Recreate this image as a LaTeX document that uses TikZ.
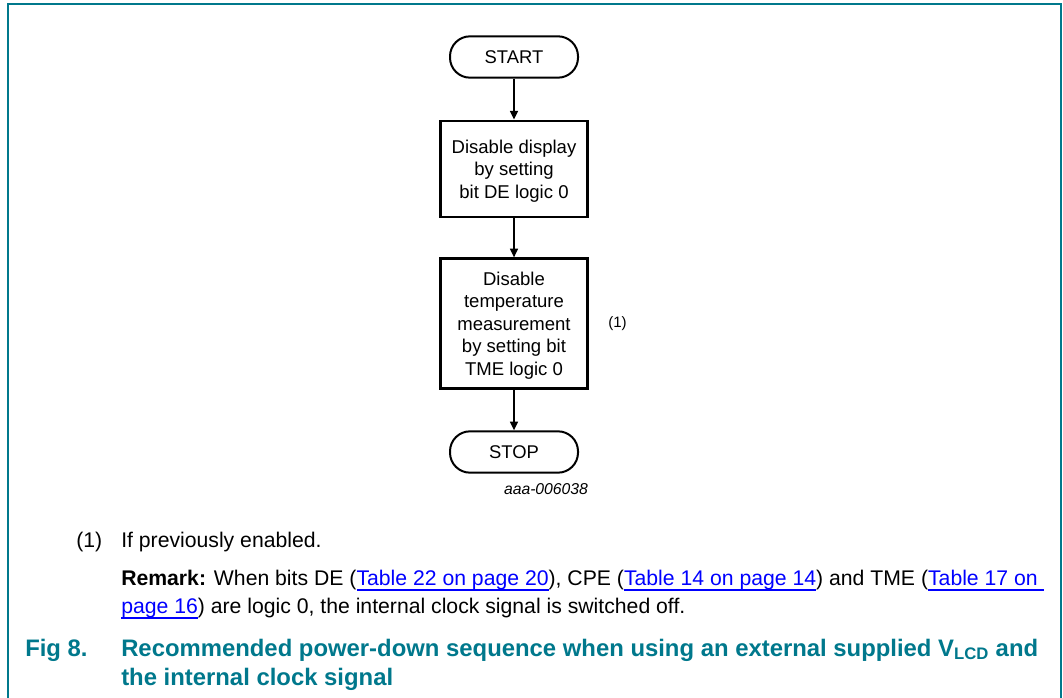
\documentclass[tikz,border=0pt]{standalone}
\usepackage{fontspec}
\setmainfont{Liberation Sans}
\usetikzlibrary{arrows.meta}
\definecolor{frameteal}{RGB}{0,120,140}
\definecolor{captealc}{RGB}{0,120,140}
\definecolor{linkblue}{RGB}{0,0,255}
\newcommand\lnk[1]{\textcolor{linkblue}{\setbox0\hbox{#1}\rlap{\rule[-4.2pt]{\wd0}{1.3pt}}\box0}}
\tikzset{
  pill/.style={draw, line width=1.5pt, rounded corners=15pt, minimum width=96pt, minimum height=31pt, font=\fontsize{13.8}{16}\selectfont},
  stepbox/.style={draw, line width=2.2pt, minimum width=110pt},
  boxtext/.style={align=center, inner sep=0pt, font=\fontsize{13.9}{16.9}\selectfont},
  flow/.style={line width=1.1pt, -{Triangle[length=6.5pt,width=6pt]}},
  txt/.style={anchor=base west, inner sep=0pt, font=\fontsize{15.9}{18}\selectfont},
  figcap/.style={anchor=base west, inner sep=0pt, text=captealc, font=\fontsize{17.9}{20}\selectfont\bfseries},
}
\begin{document}
\begin{tikzpicture}[x=0.75pt,y=-0.75pt]
\useasboundingbox (0,0) rectangle (1063,698);
\draw[frameteal, line width=1.5pt] (8,698) -- (8,4) -- (1061,4) -- (1061,698);
\node[pill] (start) at (514,57) {START};
\node[stepbox, minimum height=72pt] (b1) at (514,169) {};
\node[boxtext] (b1t) at (514,171) {Disable display\\by setting\\bit DE logic 0};
\node[stepbox, minimum height=97pt] (b2) at (514,323.5) {};
\node[boxtext] (b2t) at (514,325.5) {Disable\\temperature\\measurement\\by setting bit\\TME logic 0};
\node[pill] (stop) at (514,452) {STOP};
\node[anchor=west, inner sep=0pt, font=\fontsize{11.3}{13}\selectfont] (n1) at (608,324) {(1)};
\node[anchor=base, inner sep=0pt, font=\fontsize{11.8}{13}\selectfont\itshape] (id) at (546,494) {aaa-006038};
\draw[flow] (start) -- (b1);
\draw[flow] (b1) -- (b2);
\draw[flow] (b2) -- (stop);
\node[txt] (fn) at (76,547) {(1)};
\node[txt] (fnt) at (121,547) {If previously enabled.};
\node[txt] (r1) at (121,585) {\textbf{Remark:} When bits DE (\lnk{Table 22 on page 20}), CPE (\lnk{Table 14 on page 14}) and TME (\lnk{Table 17 on\ }};
\node[txt] (r2) at (121,613) {\lnk{page 16}) are logic 0, the internal clock signal is switched off.};
\node[figcap] (fig) at (25,656) {Fig 8.};
\node[figcap] (c1) at (121,656) {Recommended power-down sequence when using an external supplied V\textsubscript{LCD} and};
\node[figcap] (c2) at (121,685) {the internal clock signal};
\end{tikzpicture}
\end{document}
